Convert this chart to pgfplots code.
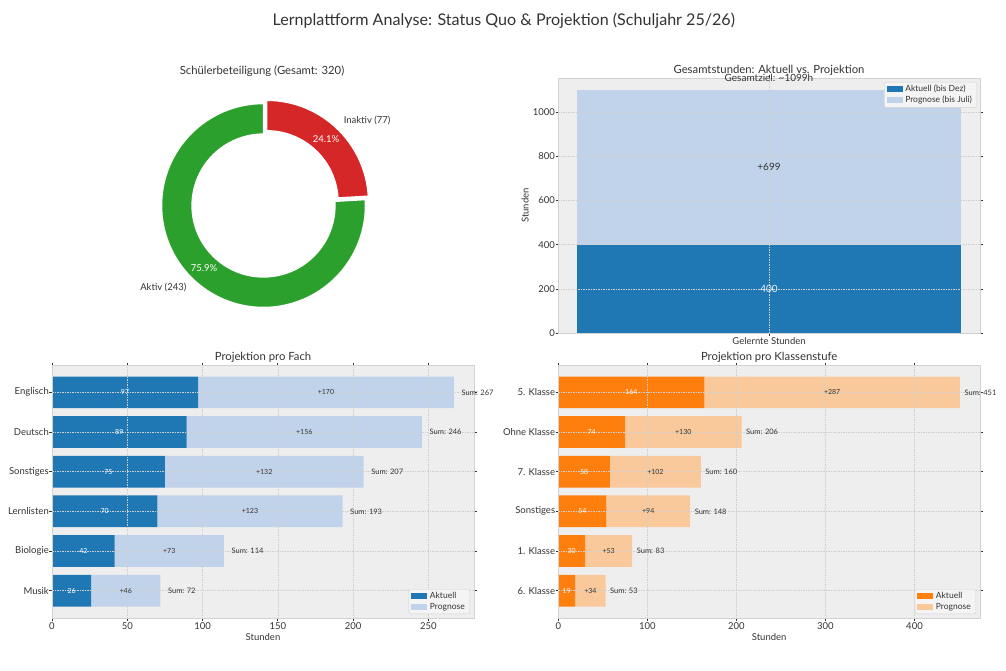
\documentclass[border=0pt]{standalone}
\usepackage{pgfplots}
\usepackage{pgfplotstable}
\pgfplotsset{compat=1.18}
\usepackage{fontspec}
\setmainfont{Lato}
\definecolor{bg}{HTML}{EEEEEE}
\definecolor{framec}{HTML}{D2D2D2}
\definecolor{gridc}{HTML}{CFCFCF}
\definecolor{legbg}{HTML}{F4F4F4}
\definecolor{tabblue}{HTML}{1F77B4}
\definecolor{ltblue}{HTML}{C1D3EA}
\definecolor{taborange}{HTML}{FF7F0E}
\definecolor{ltorange}{HTML}{F9C99B}
\definecolor{tabgreen}{HTML}{2CA02C}
\definecolor{tabred}{HTML}{D62728}
\definecolor{txt}{HTML}{333333}
\newcommand{\fs}[1]{\fontsize{#1}{#1}\selectfont}

\pgfplotstableread{
pos aktuell prognose
5 97 170
4 89.4 156.4
3 75 132
2 70 123
1 41.6 72.6
0 26 46
}\fach

\pgfplotstableread{
pos aktuell prognose
5 164 287
4 74.9 130.9
3 58 102
2 54 94
1 30 53
0 19 34
}\klasse

\pgfplotsset{
  panel/.style={
    scale only axis,
    axis on top,
    axis background/.style={fill=bg},
    axis line style={framec, line width=0.8pt},
    grid=major,
    major grid style={gridc, line width=0.5pt, dash pattern=on 1.5pt off 1pt},
    tick align=outside,
    major tick length=2.5pt,
    tick style={txt, line width=0.6pt},
    /pgf/number format/assume math mode=true,
    /pgf/number format/1000 sep={},
    ticklabel style={font=\fs{9.5}, text=txt, inner sep=0pt},
    xticklabel style={yshift=-1.5pt},
    yticklabel style={xshift=-0.5pt},
    every axis title/.style={font=\fs{11.3}, text=txt, inner sep=0pt, anchor=base, at={(axis description cs:0.5,1)}, yshift=4.5pt},
    xlabel style={font=\fs{9.5}, text=txt, inner sep=0pt, anchor=base, at={(axis description cs:0.5,0)}, yshift=-22pt},
    ylabel style={font=\fs{9.5}, text=txt, inner sep=0pt},
    clip=false,
    legend cell align=left,
    legend style={font=\fs{8.5}, text=txt, draw=framec, fill=legbg, rounded corners=2pt, inner xsep=2.5pt, inner ysep=2pt, row sep=1pt, nodes={inner xsep=2.5pt, inner ysep=1pt}},
  },
  patch/.style={legend image code/.code={\fill[##1, draw=none, sharp corners] (0pt,-3pt) rectangle (16pt,3pt);}},
}
\tikzset{
  wl/.style={font=\fs{7}, text=white},
  dl/.style={font=\fs{7}, text=txt},
  sl/.style={font=\fs{7.5}, text=txt, anchor=west, inner sep=0pt},
}

\pgfmathsetmacro{\nA}{243}
\pgfmathsetmacro{\nI}{77}
\pgfmathsetmacro{\angI}{360/(\nA+\nI)*\nI}
\pgfmathsetmacro{\sI}{90-\angI}
\pgfmathsetmacro{\eA}{360+\sI}
\pgfmathsetmacro{\mI}{90-\angI/2}
\pgfmathsetmacro{\mA}{90+(360-\angI)/2}

\begin{document}
\begin{tikzpicture}
\useasboundingbox (0pt,0pt) rectangle (1006pt,-671pt);

\node[font=\fs{16.1}, text=txt, anchor=base, inner sep=0pt] at (503.8pt,-26pt) {Lernplattform Analyse: Status Quo \& Projektion (Schuljahr 25/26)};
\node[font=\fs{11.3}, text=txt, anchor=base, inner sep=0pt] at (262pt,-74.5pt) {Schülerbeteiligung (Gesamt: 320)};

% Donut
\begin{axis}[hide axis, scale only axis, width=244.8pt, height=244.8pt,
  xmin=-1.2, xmax=1.2, ymin=-1.2, ymax=1.2,
  at={(263.5pt,-205.5pt)}, anchor=center, clip=false]
\coordinate (C) at (axis cs:0,0);
\coordinate (CR) at ([shift={(\mI:4.5pt)}]axis cs:0,0);
\fill[tabgreen, draw=white, line width=1.5pt]
  ([shift={(90:102pt)}]C) arc[start angle=90, end angle=\eA, radius=102pt]
  -- ([shift={(\eA:71.4pt)}]C) arc[start angle=\eA, end angle=90, radius=71.4pt] -- cycle;
\fill[tabred, draw=white, line width=1.5pt]
  ([shift={(\sI:102pt)}]CR) arc[start angle=\sI, end angle=90, radius=102pt]
  -- ([shift={(90:71.4pt)}]CR) arc[start angle=90, end angle=\sI, radius=71.4pt] -- cycle;
\node[font=\fs{9.5}, text=white] at ([shift={(\mI:86.7pt)}]CR) {24.1\%};
\node[font=\fs{9.5}, text=white] at ([shift={(\mA:86.7pt)}]C) {75.9\%};
\node[font=\fs{9.5}, text=txt, anchor=west, inner sep=0pt] at ([shift={(\mI:112.2pt)}]CR) {Inaktiv (77)};
\node[font=\fs{9.5}, text=txt, anchor=east, inner sep=0pt] at ([shift={(\mA:112.2pt)}]C) {Aktiv (243)};
\end{axis}

% Top right
\begin{axis}[panel, at={(558pt,-333pt)}, anchor=south west, width=422pt, height=255pt,
  ybar stacked, bar width=0.8,
  xmin=-0.44, xmax=0.44, ymin=0, ymax=1154,
  xtick={0}, xticklabels={Gelernte Stunden},
  ytick={0,200,...,1000},
  ylabel={Stunden}, ylabel style={at={([xshift=-29.5pt]axis description cs:0,0.5)}, anchor=base},
  title={Gesamtstunden: Aktuell vs. Projektion},
  legend style={at={(axis description cs:1,1)}, anchor=north east, xshift=-3pt, yshift=-4pt},
]
\addplot[fill=tabblue, draw=none, patch] coordinates {(0,400)};
\addplot[fill=ltblue, draw=none, patch] coordinates {(0,699)};
\legend{Aktuell (bis Dez), Prognose (bis Juli)}
\coordinate (t1) at (axis cs:0,200);
\coordinate (t2) at (axis cs:0,749.5);
\coordinate (t3) at (axis cs:0,1156);
\end{axis}
\node[font=\fs{10}, text=white!90!tabblue] at (t1) {400};
\node[font=\fs{10}, text=txt] at (t2) {+699};
\node[font=\fs{10}, text=txt] at (t3) {Gesamtziel: \textasciitilde1099h};

% Bottom left
\begin{axis}[panel, at={(52pt,-618pt)}, anchor=south west, width=422pt, height=253pt,
  xbar stacked, bar width=0.8,
  xmin=0, xmax=280.35, ymin=-0.69, ymax=5.69,
  xtick={0,50,...,250},
  ytick={0,...,5}, yticklabels={Musik,Biologie,Lernlisten,Sonstiges,Deutsch,Englisch},
  xlabel={Stunden}, title={Projektion pro Fach},
  legend style={at={(axis description cs:1,0)}, anchor=south east, xshift=-4pt, yshift=4pt},
]
\addplot[fill=tabblue, draw=none, patch] table[x=aktuell, y=pos]{\fach};
\addplot[fill=ltblue, draw=none, patch] table[x=prognose, y=pos]{\fach};
\legend{Aktuell, Prognose}
\coordinate (a1) at (axis cs:48.5,5);  \coordinate (b1) at (axis cs:182,5);   \coordinate (c1) at (axis cs:272,5);
\coordinate (a2) at (axis cs:44.7,4);  \coordinate (b2) at (axis cs:167.6,4); \coordinate (c2) at (axis cs:250.8,4);
\coordinate (a3) at (axis cs:37.5,3);  \coordinate (b3) at (axis cs:141,3);   \coordinate (c3) at (axis cs:212,3);
\coordinate (a4) at (axis cs:35,2);    \coordinate (b4) at (axis cs:131.5,2); \coordinate (c4) at (axis cs:198,2);
\coordinate (a5) at (axis cs:20.8,1);  \coordinate (b5) at (axis cs:77.9,1);  \coordinate (c5) at (axis cs:119.2,1);
\coordinate (a6) at (axis cs:13,0);    \coordinate (b6) at (axis cs:49,0);    \coordinate (c6) at (axis cs:77,0);
\end{axis}
\node[wl] at (a1) {97};  \node[dl] at (b1) {+170}; \node[sl] at (c1) {Sum: 267};
\node[wl] at (a2) {89};  \node[dl] at (b2) {+156}; \node[sl] at (c2) {Sum: 246};
\node[wl] at (a3) {75};  \node[dl] at (b3) {+132}; \node[sl] at (c3) {Sum: 207};
\node[wl] at (a4) {70};  \node[dl] at (b4) {+123}; \node[sl] at (c4) {Sum: 193};
\node[wl] at (a5) {42};  \node[dl] at (b5) {+73};  \node[sl] at (c5) {Sum: 114};
\node[wl] at (a6) {26};  \node[dl] at (b6) {+46};  \node[sl] at (c6) {Sum: 72};

% Bottom right
\begin{axis}[panel, at={(558.3pt,-618pt)}, anchor=south west, width=421.7pt, height=253pt,
  xbar stacked, bar width=0.8,
  xmin=0, xmax=473.55, ymin=-0.69, ymax=5.69,
  xtick={0,100,...,400},
  ytick={0,...,5}, yticklabels={6. Klasse,1. Klasse,Sonstiges,7. Klasse,Ohne Klasse,5. Klasse},
  xlabel={Stunden}, title={Projektion pro Klassenstufe},
  legend style={at={(axis description cs:1,0)}, anchor=south east, xshift=-4pt, yshift=4pt},
]
\addplot[fill=taborange, draw=none, patch] table[x=aktuell, y=pos]{\klasse};
\addplot[fill=ltorange, draw=none, patch] table[x=prognose, y=pos]{\klasse};
\legend{Aktuell, Prognose}
\coordinate (d1) at (axis cs:82,5);    \coordinate (e1) at (axis cs:307.5,5);  \coordinate (f1) at (axis cs:456,5);
\coordinate (d2) at (axis cs:37.45,4); \coordinate (e2) at (axis cs:140.35,4); \coordinate (f2) at (axis cs:210.8,4);
\coordinate (d3) at (axis cs:29,3);    \coordinate (e3) at (axis cs:109,3);    \coordinate (f3) at (axis cs:165,3);
\coordinate (d4) at (axis cs:27,2);    \coordinate (e4) at (axis cs:101,2);    \coordinate (f4) at (axis cs:153,2);
\coordinate (d5) at (axis cs:15,1);    \coordinate (e5) at (axis cs:56.5,1);   \coordinate (f5) at (axis cs:88,1);
\coordinate (d6) at (axis cs:9.5,0);   \coordinate (e6) at (axis cs:36,0);     \coordinate (f6) at (axis cs:58,0);
\end{axis}
\node[wl] at (d1) {164}; \node[dl] at (e1) {+287}; \node[sl] at (f1) {Sum: 451};
\node[wl] at (d2) {74};  \node[dl] at (e2) {+130}; \node[sl] at (f2) {Sum: 206};
\node[wl] at (d3) {58};  \node[dl] at (e3) {+102}; \node[sl] at (f3) {Sum: 160};
\node[wl] at (d4) {54};  \node[dl] at (e4) {+94};  \node[sl] at (f4) {Sum: 148};
\node[wl] at (d5) {30};  \node[dl] at (e5) {+53};  \node[sl] at (f5) {Sum: 83};
\node[wl] at (d6) {19};  \node[dl] at (e6) {+34};  \node[sl] at (f6) {Sum: 53};
\end{tikzpicture}
\end{document}
